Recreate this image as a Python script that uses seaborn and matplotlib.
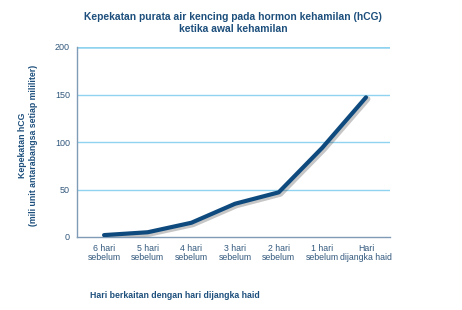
import matplotlib
matplotlib.use('Agg')
import matplotlib.pyplot as plt
import matplotlib.patheffects as pe
import seaborn as sns
import pandas as pd

# hCG values
days = ['6 hari\nsebelum', '5 hari\nsebelum', '4 hari\nsebelum', '3 hari\nsebelum',
        '2 hari\nsebelum', '1 hari\nsebelum', 'Hari\ndijangka haid']
hcg = [2, 5, 15, 35, 47, 94, 147]
yticks = [0, 50, 100, 150, 200]

navy = '#0e4a7e'
title_col = '#1d4f7c'
grid_col = '#8fd3f0'
spine_col = '#7f9bb5'

sns.set_style('white')
plt.rcParams['font.family'] = ['Liberation Sans', 'DejaVu Sans']

df = pd.DataFrame({'day': range(len(days)), 'hcg': hcg})

fig = plt.figure(figsize=(4.62, 3.10), dpi=100)
ax = fig.add_axes([77 / 462, 1 - 237 / 310, (390 - 77) / 462, (237 - 47) / 310])

for v in yticks[1:]:
    ax.axhline(v, color=grid_col, lw=1.0 if v < 200 else 1.8, zorder=1)

sns.lineplot(data=df, x='day', y='hcg', ax=ax, color=navy, lw=3.0, zorder=3,
             path_effects=[pe.SimpleLineShadow(offset=(1.2, -1.2), alpha=0.3, shadow_color='#444444',
                                               linewidth=4.0),
                           pe.Normal()])

ax.set_xlim(-0.62, 6.55)
ax.set_ylim(0, 200)
ax.set_yticks(yticks)
ax.set_xticks(range(len(days)))
ax.set_xticklabels(days, fontsize=6.3, color='#33597d', linespacing=1.0)
ax.tick_params(axis='y', labelsize=6.5, colors='#33597d', length=3, width=0.8, pad=2)
ax.tick_params(axis='x', length=3, width=1.0, color='#2fb4e6', pad=2)
for lab in ax.get_yticklabels():
    lab.set_color('#33597d')

for s in ['top', 'right']:
    ax.spines[s].set_visible(False)
for s in ['left', 'bottom']:
    ax.spines[s].set_color(spine_col)
    ax.spines[s].set_linewidth(1.0)

ax.set_xlabel('')
ax.set_ylabel('')
fig.text(233 / 462, 1 - 23 / 310, 'Kepekatan purata air kencing pada hormon kehamilan (hCG)\nketika awal kehamilan',
         ha='center', va='center', fontsize=7.4, fontweight='bold', color=title_col, linespacing=1.35)
fig.text(28 / 462, 1 - 145 / 310, 'Kepekatan hCG\n(mili unit antarabangsa setiap mililiter)',
         ha='center', va='center', rotation=90, fontsize=6.3, fontweight='bold', color=title_col, linespacing=1.15)
fig.text(175 / 462, 1 - 295 / 310, 'Hari berkaitan dengan hari dijangka haid',
         ha='center', va='center', fontsize=6.3, fontweight='bold', color=title_col)

fig.savefig('out.png', dpi=100)
